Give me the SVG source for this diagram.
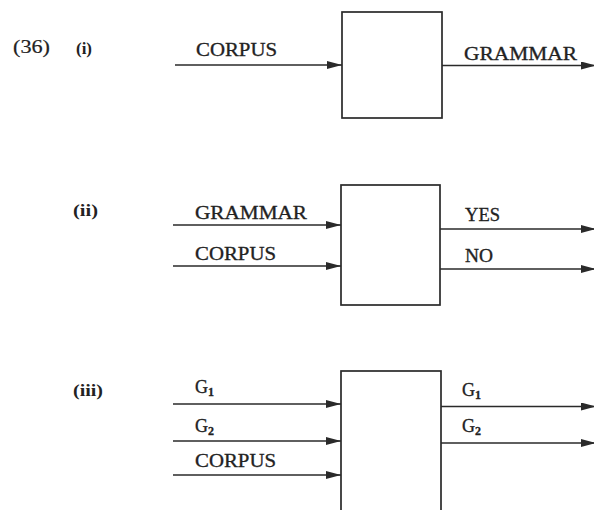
<svg xmlns="http://www.w3.org/2000/svg" width="594" height="510" viewBox="0 0 594 510">
<style>
  .bg{fill:#ffffff}
  .box{fill:none;stroke:#2a2a2a;stroke-width:1.7}
  .ln{fill:none;stroke:#2a2a2a;stroke-width:1.7;marker-end:url(#ah)}
  text{font-family:"Liberation Serif","Times New Roman",serif;fill:#222;font-size:18px;stroke:#222;stroke-width:0.3}
  .num{font-size:18px;stroke-width:0.2}
  .lab{font-size:16px;font-weight:bold;stroke-width:0}
  .sub{font-size:12px;font-weight:bold}
</style>
<defs>
  <marker id="ah" markerUnits="userSpaceOnUse" markerWidth="16" markerHeight="9" refX="15" refY="4" orient="auto">
    <path d="M0,0 L15,4 L0,8 z" fill="#2a2a2a"/>
  </marker>
</defs>
<rect class="bg" x="0" y="0" width="594" height="510"/>

<g id="labels">
  <text class="num" x="13" y="53" textLength="37" lengthAdjust="spacingAndGlyphs">(36)</text>
  <text class="lab" x="76" y="54" textLength="16" lengthAdjust="spacingAndGlyphs">(i)</text>
  <text class="lab" x="73" y="216" textLength="25" lengthAdjust="spacingAndGlyphs">(ii)</text>
  <text class="lab" x="73" y="396" textLength="30" lengthAdjust="spacingAndGlyphs">(iii)</text>
</g>

<g id="box1"><rect class="box" x="342" y="12" width="100" height="106"/></g>
<g id="box2"><rect class="box" x="341" y="185" width="99" height="120"/></g>
<g id="box3"><rect class="box" x="341" y="371" width="100" height="150"/></g>

<g id="connectors">
  <line class="ln" x1="175" y1="65" x2="342" y2="65"/>
  <line class="ln" x1="442" y1="65.5" x2="596" y2="65.5"/>

  <line class="ln" x1="173" y1="225" x2="341" y2="225"/>
  <line class="ln" x1="173" y1="266" x2="341" y2="266"/>
  <line class="ln" x1="440" y1="229" x2="596" y2="229"/>
  <line class="ln" x1="440" y1="269" x2="596" y2="269"/>

  <line class="ln" x1="173" y1="404" x2="341" y2="404"/>
  <line class="ln" x1="173" y1="441" x2="341" y2="441"/>
  <line class="ln" x1="173" y1="475" x2="341" y2="475"/>
  <line class="ln" x1="441" y1="406.5" x2="596" y2="406.5"/>
  <line class="ln" x1="441" y1="443" x2="596" y2="443"/>
</g>

<g id="edge-labels">
  <text x="196" y="56" textLength="81" lengthAdjust="spacingAndGlyphs">CORPUS</text>
  <text x="464" y="60" textLength="113" lengthAdjust="spacingAndGlyphs">GRAMMAR</text>

  <text x="195" y="219" textLength="112" lengthAdjust="spacingAndGlyphs">GRAMMAR</text>
  <text x="195" y="260" textLength="81" lengthAdjust="spacingAndGlyphs">CORPUS</text>
  <text x="465" y="221" textLength="35" lengthAdjust="spacingAndGlyphs">YES</text>
  <text x="465" y="262" textLength="28" lengthAdjust="spacingAndGlyphs">NO</text>

  <text x="195" y="393">G<tspan class="sub" dy="3">1</tspan></text>
  <text x="195" y="432">G<tspan class="sub" dy="3">2</tspan></text>
  <text x="195" y="467" textLength="81" lengthAdjust="spacingAndGlyphs">CORPUS</text>
  <text x="462" y="396">G<tspan class="sub" dy="3">1</tspan></text>
  <text x="462" y="432">G<tspan class="sub" dy="3">2</tspan></text>
</g>
</svg>
